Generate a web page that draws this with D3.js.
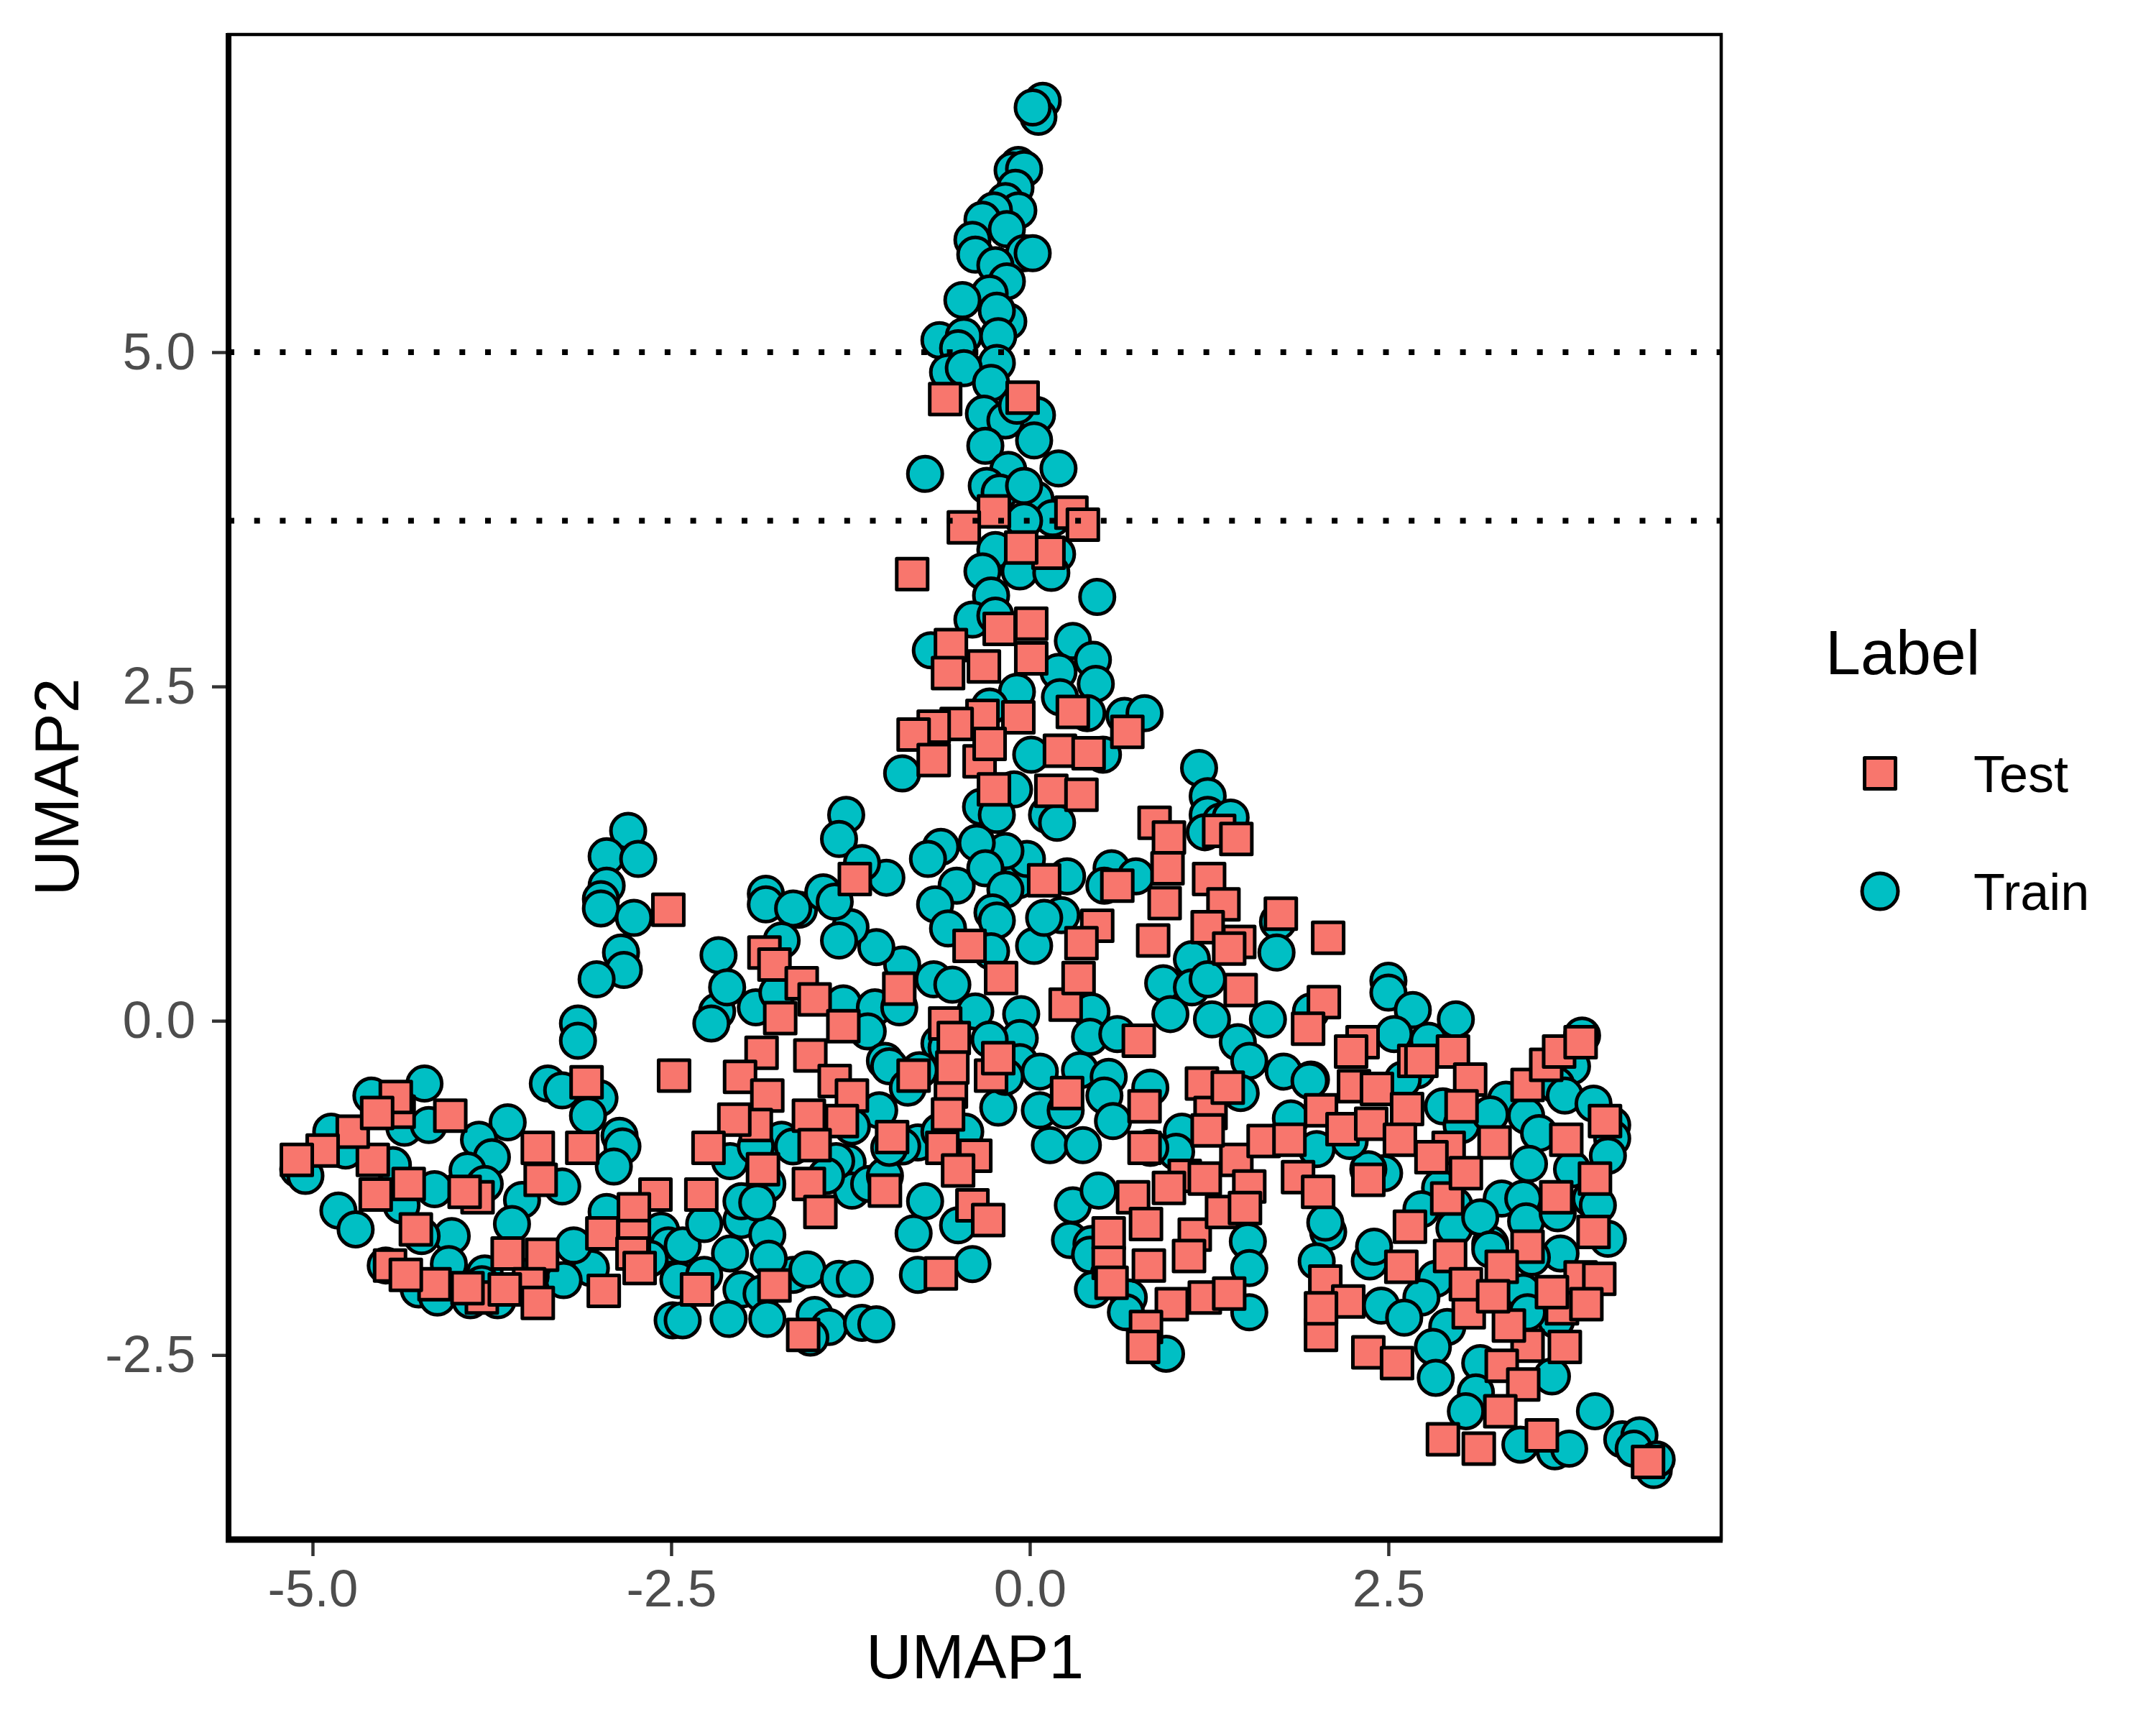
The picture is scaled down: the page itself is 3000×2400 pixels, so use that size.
<!DOCTYPE html>
<html>
<head>
<meta charset="utf-8">
<script src="https://cdn.jsdelivr.net/npm/d3@7"></script>
<style>
  body { margin: 0; background: #ffffff; }
  text { font-family: "Liberation Sans", Arial, sans-serif; }
</style>
</head>
<body>
<svg id="chart" width="3000" height="2400"></svg>
<script>
// UMAP coordinates, [UMAP1, UMAP2]
var trainPoints = [
  // top spire
  [0.09,6.88],[0.06,6.76],[0.02,6.83],[-0.08,6.40],[-0.12,6.36],[-0.04,6.37],[-0.10,6.23],[-0.17,6.13],
  [-0.08,6.06],[-0.25,6.06],[-0.33,5.99],[-0.16,5.92],[-0.40,5.84],[-0.38,5.73],[-0.04,5.74],[0.02,5.74],
  [-0.24,5.65],[-0.16,5.53],[-0.28,5.44],[-0.47,5.39],[-0.15,5.23],[-0.23,5.31],[-0.63,5.09],[-0.46,5.12],
  [-0.22,5.12],[-0.50,5.03],[-0.23,4.92],[-0.57,4.85],[-0.46,4.88],[-0.27,4.77],[-0.32,4.54],[-0.17,4.49],
  [0.05,4.53],[-0.09,4.60],[-0.31,4.30],[0.03,4.34],[-0.15,4.12],[0.20,4.13],[-0.73,4.09],[-0.30,4.00],
  [-0.21,3.95],[0.04,3.90],[-0.04,4.00],[0.16,3.76],[-0.04,3.74],[-0.24,3.52],[0.19,3.49],
  // upper body
  [-0.33,3.36],[-0.27,3.18],[-0.07,3.36],[0.15,3.35],[0.47,3.17],[-0.40,3.00],[-0.24,3.03],[0.30,2.84],
  [0.44,2.70],[0.46,2.52],[0.20,2.61],[0.21,2.42],[-0.69,2.77],[-0.09,2.46],[-0.28,2.35],[0.40,2.30],
  [0.66,2.28],[0.80,2.30],[0.51,1.99],[0.01,1.99],[-0.89,1.85],[-0.11,1.73],[-0.34,1.60],[-0.23,1.54],
  [0.12,1.54],[0.19,1.48],[-1.28,1.54],[-1.33,1.36],[1.18,1.89],[1.24,1.68],[1.24,1.54],[1.33,1.49],
  [1.40,1.52],[1.22,1.41],[1.73,0.74],[1.13,0.46],[0.57,1.14],[0.74,1.08],[0.52,1.01],[0.26,1.08],
  [-0.08,1.05],[-0.02,1.21],[-0.17,1.27],[-0.37,1.33],[-0.62,1.30],[-0.71,1.21],[-0.51,1.01],[-0.31,1.14],
  [-0.17,0.98],[-0.66,0.87],[-0.57,0.69],[-0.26,0.81],[-0.23,0.75],[0.03,0.56],[0.22,0.79],[0.10,0.77],
  [-0.27,0.52],[-0.89,0.42],[-1.07,0.55],[-1.25,0.70],[-1.33,0.60],[-1.00,1.07],[-1.17,1.18],[-1.61,0.83],
  [-1.44,0.96],[-1.36,0.89],
  // left arm
  [-2.80,1.42],[-2.95,1.23],[-2.73,1.21],[-2.95,1.01],[-2.99,0.91],[-2.99,0.84],[-2.76,0.77],[-2.85,0.51],
  [-2.83,0.38],[-3.02,0.31],[-3.15,-0.02],[-3.15,-0.15],[-3.36,-0.47],[-3.26,-0.52],[-3.00,-0.58],[-3.08,-0.71],
  [-2.86,-0.86],[-2.84,-0.94],[-2.90,-1.09],[-1.84,0.95],[-1.84,0.87],[-1.65,0.84],[-1.73,0.60],[-2.17,0.49],
  [-2.49,-2.24],[-2.57,-1.57],[-2.47,-1.76],[-2.52,-1.68],[-2.95,-1.43],[-3.06,-1.85],[-3.18,-1.68],[-3.25,-1.94],
  [-3.54,-1.34],[-3.61,-1.52],[-3.26,-1.24],[-3.64,-0.76],[-3.84,-0.89],[-3.75,-1.02],[-3.92,-1.12],[-3.80,-1.22],
  [-4.15,-1.26],[-4.03,-1.61],[-4.05,-1.82],[-4.12,-2.01],[-3.90,-2.09],[-3.71,-2.09],[-3.80,-1.89],[-4.22,-0.47],
  [-4.59,-0.56],[-4.36,-0.80],[-4.19,-0.78],[-4.87,-0.83],[-4.77,-0.97],[-5.10,-1.11],[-5.05,-1.16],[-4.82,-1.42],
  [-4.70,-1.56],[-4.44,-1.08],[-4.38,-1.38],[-4.24,-1.61],[-4.49,-1.83],[-4.26,-2.01],[-4.13,-2.07],[-3.82,-1.97],
  [-3.48,-1.91],[-2.65,-1.78],[-2.45,-1.94],
  // lower middle
  [-2.18,0.07],[-2.22,-0.02],[-2.11,0.25],[-1.91,0.10],[-1.76,0.21],[-1.30,0.13],[-1.08,0.10],[-1.13,-0.08],
  [-0.91,0.10],[-1.01,-0.30],[-0.98,-0.34],[-0.85,-0.50],[-1.05,-0.67],[-1.24,-0.79],[-1.27,-1.06],[-1.24,-1.27],
  [-1.12,-1.22],[-1.01,-1.16],[-0.73,-1.35],[-0.81,-1.59],[-0.50,-1.53],[-0.78,-1.90],[-0.40,-1.82],[-0.67,0.31],
  [-0.54,0.27],[-0.38,0.07],[-0.06,0.05],[-0.07,-0.13],[-0.07,-0.31],[0.07,-0.38],[-0.22,-0.65],[-0.45,-0.83],
  [-0.78,-0.91],[-0.89,-0.94],[-0.98,-0.95],[0.07,-0.67],[0.25,-0.67],[0.35,-0.37],[0.55,-0.42],[0.52,-0.56],
  [0.58,-0.75],[0.14,-0.93],[0.37,-0.93],[0.43,0.07],[0.42,-0.12],[0.61,-0.10],[0.84,-0.50],[0.93,0.28],
  [1.13,0.25],[1.24,0.31],[0.98,0.05],[1.27,0.01],[1.45,-0.16],[1.53,-0.30],[1.47,-0.54],[1.06,-0.83],
  [0.30,-1.38],[0.48,-1.27],[0.28,-1.64],[0.43,-1.67],[0.42,-1.75],[0.55,-1.90],[0.69,-2.07],[0.67,-2.18],
  [0.95,-2.49],[1.52,-1.65],[1.53,-1.85],[1.53,-2.18],[-2.42,-1.68],[-2.27,-1.52],[-2.01,-1.49],[-1.83,-1.60],
  [-2.09,-1.74],[-2.27,-1.90],[-2.01,-2.01],[-1.87,-2.04],[-1.65,-1.90],[-1.55,-1.86],[-1.33,-1.93],[-1.22,-1.93],
  [-1.50,-2.20],[-1.40,-2.29],[-1.17,-2.26],[-1.07,-2.27],[-1.53,-2.37],[-1.83,-2.23],[-2.10,-2.23],[-2.42,-2.24],
  [-1.85,-1.24],[-2.09,-1.05],[-1.83,-1.22],[-2.01,-1.35],[-1.35,-1.05],[-1.42,-1.16],[-1.73,-0.89],[-1.65,-0.94],
  [-1.91,-0.94],[-0.63,-0.17],[-0.58,-0.20],[-0.77,-0.37],[-0.63,-0.83],[-1.82,-1.78],[-1.90,-1.36],[1.02,-0.98],
  [0.44,-2.01],[-0.28,-0.14],[-0.17,-0.42],
  // right lobe
  [1.72,0.51],[1.66,0.01],[1.77,-0.38],[1.96,-0.44],[2.50,0.30],[2.50,0.21],[2.67,0.08],[2.97,0.01],
  [2.54,-0.10],[2.78,-0.15],[2.70,-0.37],[2.60,-0.44],[3.85,-0.11],[3.78,-0.34],[3.67,-0.48],[3.73,-0.56],
  [3.32,-0.59],[3.46,-0.71],[3.93,-0.62],[4.06,-0.78],[4.06,-0.88],[4.03,-1.01],[3.55,-0.84],[3.48,-1.07],
  [3.78,-1.11],[3.29,-1.33],[3.44,-1.33],[3.91,-1.33],[3.96,-1.38],[4.03,-1.63],[3.70,-1.74],[3.50,-1.77],
  [3.21,-1.67],[3.44,-2.03],[3.67,-2.24],[3.47,-2.18],[2.88,-0.64],[3.01,-0.78],[3.21,-0.70],[2.86,-1.25],
  [2.96,-1.38],[2.73,-1.41],[2.96,-1.55],[3.14,-1.47],[3.21,-1.71],[2.83,-1.93],[2.73,-2.07],[2.91,-2.29],
  [2.81,-2.44],[2.83,-2.67],[3.14,-2.56],[3.11,-2.78],[3.04,-2.92],[3.64,-2.66],[3.42,-3.17],[3.66,-3.22],
  [3.76,-3.20],[3.94,-2.92],[4.13,-3.13],[4.25,-3.10],[4.21,-3.20],[4.35,-3.36],[4.37,-3.28],[2.37,-1.80],
  [2.40,-1.69],[2.45,-2.13],[2.61,-2.22],[2.47,-1.14],[2.36,-1.11],[2.23,-0.90],[2.00,-0.96],[1.95,-0.45],
  [2.08,-1.58],[2.06,-1.51],[2.00,-1.80],[1.96,0.07],[1.82,-0.73],[0.84,-0.95],[3.46,-1.50],[3.68,-1.44]
];

var testPoints = [
  // spire and upper body
  [-0.59,4.65],[-0.05,4.66],[-0.25,3.81],[-0.46,3.69],[0.29,3.80],[0.37,3.71],
  [-0.82,3.34],[0.13,3.50],[-0.06,3.54],[-0.21,2.93],[0.01,2.97],[0.01,2.71],[-0.32,2.65],[-0.55,2.81],
  [-0.57,2.60],[0.30,2.31],[0.68,2.16],[-0.08,2.27],[-0.33,2.28],[-0.51,2.22],[-0.67,2.20],[-0.81,2.14],
  [-0.67,1.95],[-0.35,1.94],[-0.28,2.07],[0.21,2.02],[0.41,2.00],[-0.25,1.73],[0.15,1.72],[0.36,1.69],
  [0.87,1.48],[0.97,1.37],[1.32,1.42],[1.44,1.36],[0.96,1.14],[1.25,1.06],[0.94,0.88],[1.35,0.87],
  [1.24,0.70],[0.86,0.60],[1.46,0.59],[1.75,0.80],[0.61,1.01],[0.10,1.05],[0.47,0.71],[0.36,0.58],
  [-0.42,0.56],[-1.22,1.06],
  // left arm
  [-2.52,0.83],[-2.48,-0.41],[-3.09,-0.46],[-3.12,-0.95],[-3.43,-0.95],[-3.41,-1.19],[-1.85,0.51],[-1.78,0.42],
  [-2.61,-1.30],[-2.76,-1.41],[-2.76,-1.61],[-2.98,-1.59],[-2.77,-1.74],[-2.72,-1.85],[-2.97,-2.02],[-3.40,-1.75],
  [-3.64,-1.74],[-3.49,-1.97],[-3.43,-2.11],[-3.82,-2.07],[-3.92,-2.00],[-4.15,-1.97],[-4.46,-1.83],[-4.35,-1.90],
  [-4.28,-1.56],[-3.85,-1.32],[-3.94,-1.28],[-4.33,-1.22],[-4.56,-1.30],[-4.58,-1.04],[-4.72,-0.83],[-4.93,-0.97],
  [-5.11,-1.04],[-4.40,-0.68],[-4.42,-0.57],[-4.04,-0.71],[-4.55,-0.69],[-3.66,-2.01],
  // lower middle
  [-1.59,0.28],[-1.74,0.02],[-1.50,0.16],[-1.30,-0.04],[-1.87,-0.24],[-1.53,-0.26],[-2.02,-0.42],[-1.83,-0.56],
  [-1.36,-0.45],[-1.24,-0.56],[-1.54,-0.71],[-1.91,-0.78],[-2.06,-0.74],[-1.31,-0.75],[-1.50,-0.93],[-2.24,-0.95],
  [-1.86,-1.11],[-1.54,-1.22],[-1.46,-1.43],[-2.29,-1.30],[-1.01,-1.27],[-0.96,-0.87],[-0.91,0.24],[-0.81,-0.41],
  [-0.55,-0.53],[-0.59,-0.02],[-0.53,-0.13],[-0.54,-0.35],[-0.27,-0.41],[-0.22,-0.28],[-0.20,0.32],[-0.61,-0.95],
  [-0.38,-1.01],[-0.50,-1.12],[-0.40,-1.38],[-0.29,-1.49],[-0.62,-1.89],[-2.32,-2.01],[-1.78,-1.98],[-1.58,-2.35],
  [0.26,-0.54],[0.25,0.12],[0.34,0.32],[0.76,-0.15],[0.80,-0.64],[0.80,-0.95],[1.20,-0.47],[1.26,-0.69],
  [1.47,0.23],[1.44,-1.04],[1.08,-1.16],[0.72,-1.32],[0.81,-1.52],[0.55,-1.59],[0.55,-1.81],[0.83,-1.83],
  [0.57,-1.96],[1.15,-1.60],[1.34,-1.43],[1.11,-1.76],[1.22,-2.07],[1.39,-2.04],[0.99,-2.12],[0.81,-2.29],
  [0.79,-2.44],[1.53,-1.24],[-0.57,-0.70],[1.38,-0.50],[1.24,-0.82],[0.97,-1.25],
  // right lobe
  [2.08,0.62],[1.39,0.54],[2.05,0.14],[1.94,-0.06],[2.32,-0.16],[2.24,-0.23],[2.68,-0.30],[2.95,-0.23],
  [2.73,-0.30],[3.07,-0.44],[2.26,-0.49],[2.42,-0.51],[2.63,-0.66],[3.01,-0.64],[2.03,-0.67],[2.18,-0.81],
  [2.38,-0.77],[2.58,-0.89],[2.92,-0.95],[3.24,-0.91],[3.47,-0.48],[3.60,-0.33],[3.69,-0.23],[3.84,-0.16],
  [3.74,-0.89],[4.01,-0.75],[3.94,-1.18],[3.67,-1.32],[3.93,-1.58],[3.47,-1.69],[3.29,-1.84],[2.93,-1.76],
  [2.59,-1.84],[2.65,-1.54],[2.91,-1.33],[3.04,-1.14],[3.84,-1.92],[3.71,-2.15],[3.73,-2.44],[3.47,-2.43],
  [3.06,-2.18],[3.34,-2.28],[3.29,-2.58],[3.44,-2.72],[3.28,-2.92],[2.88,-3.13],[3.13,-3.20],[3.57,-3.10],
  [4.31,-3.30],[2.36,-2.48],[2.56,-2.56],[2.03,-2.35],[2.06,-1.95],[2.22,-2.10],[2.03,-2.15],[1.87,-1.17],
  [2.01,-1.28],[2.36,-1.19],[1.63,-0.90],[1.81,-0.89],[1.22,-1.18],[1.50,-1.40],[2.80,-1.02],[3.04,-1.97],
  [3.23,-2.06],[3.64,-2.03],[3.97,-1.93],[3.88,-2.12]
];

var xTicks = [-5, -2.5, 0, 2.5];
var yTicks = [-2.5, 0, 2.5, 5];
var cutoffs = [5.0, 3.74];          // dotted horizontal lines
var legendLabels = ["Test", "Train"];

var svg = d3.select("#chart");
svg.append("rect").attr("width", 3000).attr("height", 2400).attr("fill", "#ffffff");

// panel position in pixels (window.top is reserved, so use own names)
var panelLeft = 318, panelRight = 2395, panelTop = 48, panelBottom = 2142;

var x = d3.scaleLinear().domain([-5.586, 4.82]).range([panelLeft, panelRight]);
var y = d3.scaleLinear().domain([-3.88, 7.376]).range([panelBottom, panelTop]);

var fmt = function(d) { return d.toFixed(1); };

// axes
var xAxis = svg.append("g")
  .attr("transform", "translate(0," + panelBottom + ")")
  .call(d3.axisBottom(x).tickValues(xTicks).tickFormat(fmt).tickSize(23).tickPadding(18));
var yAxis = svg.append("g")
  .attr("transform", "translate(" + panelLeft + ",0)")
  .call(d3.axisLeft(y).tickValues(yTicks).tickFormat(fmt).tickSize(23).tickPadding(23));

[xAxis, yAxis].forEach(function(g) {
  g.select(".domain").remove();
  g.selectAll(".tick line").attr("stroke", "#333333").attr("stroke-width", 4.5);
  g.selectAll(".tick text")
    .attr("fill", "#4D4D4D")
    .style("font-size", "73px")
    .style("font-family", "'Liberation Sans', Arial, sans-serif");
});

// points: train circles first, test squares on top
var pts = svg.append("g");
pts.selectAll("circle")
  .data(trainPoints)
  .enter()
  .append("circle")
  .attr("cx", d => x(d[0]))
  .attr("cy", d => y(d[1]))
  .attr("r", 24)
  .attr("fill", "#00BFC4")
  .attr("stroke", "#000000")
  .attr("stroke-width", 5);

var side = 43;
pts.selectAll("rect")
  .data(testPoints)
  .enter()
  .append("rect")
  .attr("x", d => x(d[0]) - side / 2)
  .attr("y", d => y(d[1]) - side / 2)
  .attr("width", side)
  .attr("height", side)
  .attr("fill", "#F8766D")
  .attr("stroke", "#000000")
  .attr("stroke-width", 5)
  .attr("stroke-linejoin", "round");

// dotted cut-off lines drawn above the points
svg.selectAll(".cutoff")
  .data(cutoffs)
  .enter()
  .append("line")
  .attr("class", "cutoff")
  .attr("x1", panelLeft)
  .attr("x2", panelRight)
  .attr("y1", d => y(d))
  .attr("y2", d => y(d))
  .attr("stroke", "#000000")
  .attr("stroke-width", 8)
  .attr("stroke-dasharray", "8,27.7");

// panel border plus heavier axis lines
svg.append("rect")
  .attr("x", panelLeft).attr("y", panelTop)
  .attr("width", panelRight - panelLeft).attr("height", panelBottom - panelTop)
  .attr("fill", "none").attr("stroke", "#000000").attr("stroke-width", 4.5);
svg.append("line")
  .attr("x1", panelLeft).attr("x2", panelLeft).attr("y1", panelTop - 2).attr("y2", panelBottom + 4)
  .attr("stroke", "#000000").attr("stroke-width", 8);
svg.append("line")
  .attr("x1", panelLeft - 4).attr("x2", panelRight + 2).attr("y1", panelBottom).attr("y2", panelBottom)
  .attr("stroke", "#000000").attr("stroke-width", 9);

// axis titles
svg.append("text")
  .attr("x", (panelLeft + panelRight) / 2)
  .attr("y", 2335)
  .attr("text-anchor", "middle")
  .style("font-size", "88px")
  .attr("fill", "#000000")
  .text("UMAP1");
svg.append("text")
  .attr("transform", "translate(109," + (panelTop + panelBottom) / 2 + ") rotate(-90)")
  .attr("text-anchor", "middle")
  .style("font-size", "88px")
  .attr("fill", "#000000")
  .text("UMAP2");

// legend
var legend = svg.append("g");
legend.append("text")
  .attr("x", 2540).attr("y", 938)
  .style("font-size", "88px")
  .text("Label");
legend.append("rect")
  .attr("x", 2616 - side / 2).attr("y", 1076 - side / 2)
  .attr("width", side).attr("height", side)
  .attr("fill", "#F8766D").attr("stroke", "#000000").attr("stroke-width", 5)
  .attr("stroke-linejoin", "round");
legend.append("circle")
  .attr("cx", 2616).attr("cy", 1240).attr("r", 25)
  .attr("fill", "#00BFC4").attr("stroke", "#000000").attr("stroke-width", 5);
legendLabels.forEach(function(lab, i) {
  legend.append("text")
    .attr("x", 2746)
    .attr("y", 1102 + i * 164)
    .style("font-size", "72px")
    .text(lab);
});
</script>
</body>
</html>
